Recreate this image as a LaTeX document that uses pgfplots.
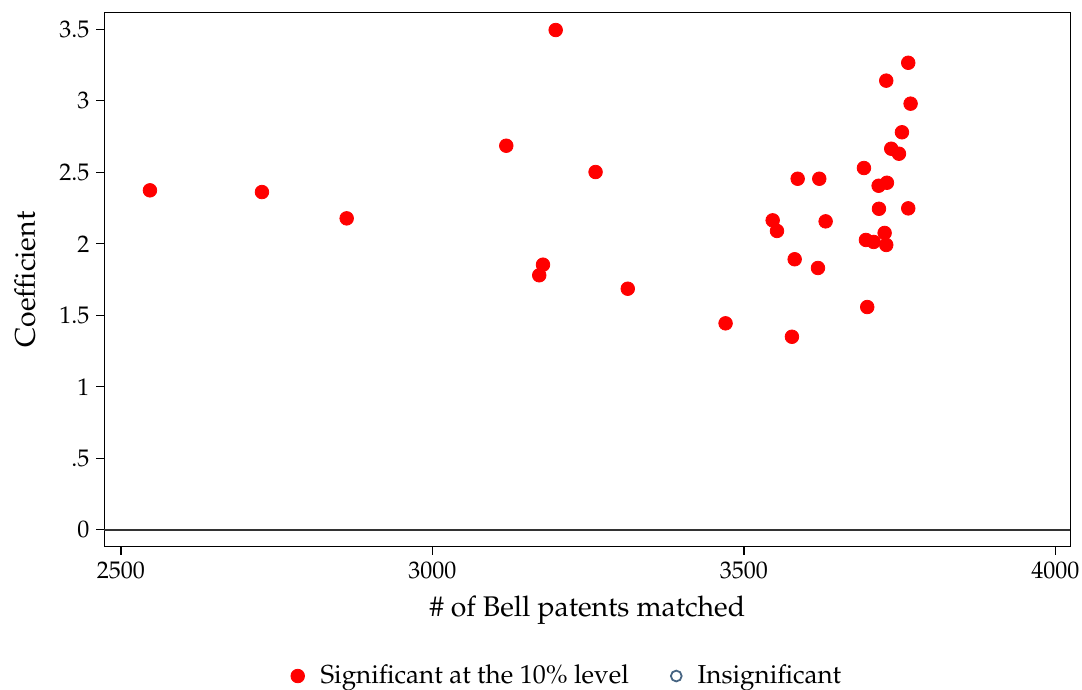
\documentclass[border=0pt]{standalone}
\usepackage[T1]{fontenc}
\usepackage{mathpazo}
\usepackage{pgfplots}
\pgfplotsset{compat=1.18}
\definecolor{sigred}{RGB}{255,0,0}
\definecolor{insig}{RGB}{70,100,130}
\begin{document}
\begin{tikzpicture}
\begin{axis}[
  name=ax,
  at={(0,0)}, anchor=south west,
  scale only axis,
  width=483pt, height=267.2pt,
  xmin=2473.4, xmax=4024,
  ymin=-0.118, ymax=3.619,
  xtick={2500,3000,3500,4000},
  ytick={0,0.5,1,1.5,2,2.5,3,3.5},
  yticklabels={0,.5,1,1.5,2,2.5,3,3.5},
  xticklabels={2500,3000,3500,4000},
  xtick pos=left, ytick pos=left,
  tick align=outside,
  major tick length=4pt,
  tick style={black, line width=0.6pt},
  axis line style={black, line width=0.6pt},
  ticklabel style={font=\fontsize{12}{14}\selectfont},
  xlabel={\# of Bell patents matched},
  ylabel={Coefficient},
  label style={font=\fontsize{14.2}{16}\selectfont},
  xlabel style={at={(rel axis cs:0.5,-0.118)}, anchor=center},
  ylabel style={at={(rel axis cs:-0.0822,0.5)}, anchor=center},
  legend style={at={(0.480,-0.242)}, anchor=center, draw=none, fill=none,
    legend columns=2, font=\fontsize{13}{15}\selectfont,
    /tikz/every odd column/.append style={column sep=6pt},
    /tikz/every even column/.append style={column sep=19pt}},
  legend cell align=left,
  clip=false,
]
\addplot[only marks, mark=*, mark size=3.4pt, color=sigred, mark options={draw=sigred, fill=sigred}] coordinates {
(2546.5,2.374) (2726.3,2.362) (2862.3,2.178) (3118.5,2.686) (3197.8,3.495)
(3261.8,2.502) (3177.4,1.854) (3171.4,1.780) (3313.5,1.686) (3470.5,1.444)
(3763.7,3.266) (3728.4,3.141) (3767.5,2.980) (3753.6,2.780) (3736.4,2.665)
(3748.8,2.630) (3692.6,2.530) (3586.2,2.455) (3620.9,2.455) (3716.2,2.406)
(3729.5,2.427) (3716.7,2.245) (3763.7,2.248) (3546.1,2.164) (3631.1,2.157)
(3553.0,2.090) (3725.8,2.076) (3695.8,2.027) (3708.2,2.013) (3728.4,1.992)
(3581.4,1.892) (3618.8,1.831) (3697.9,1.558) (3577.0,1.350)
};
\addlegendentry{Significant at the 10\% level}
\addlegendimage{only marks, mark=o, mark size=2.7pt, color=insig, mark options={line width=0.9pt}}
\addlegendentry{Insignificant}
\addplot[draw=black!80, line width=1.1pt, forget plot] coordinates {(2473.4,0) (4024,0)};
\end{axis}
\pgfresetboundingbox
\path (-52.2pt,-71.65pt) rectangle (488.8pt,273.35pt);
\end{tikzpicture}
\end{document}
